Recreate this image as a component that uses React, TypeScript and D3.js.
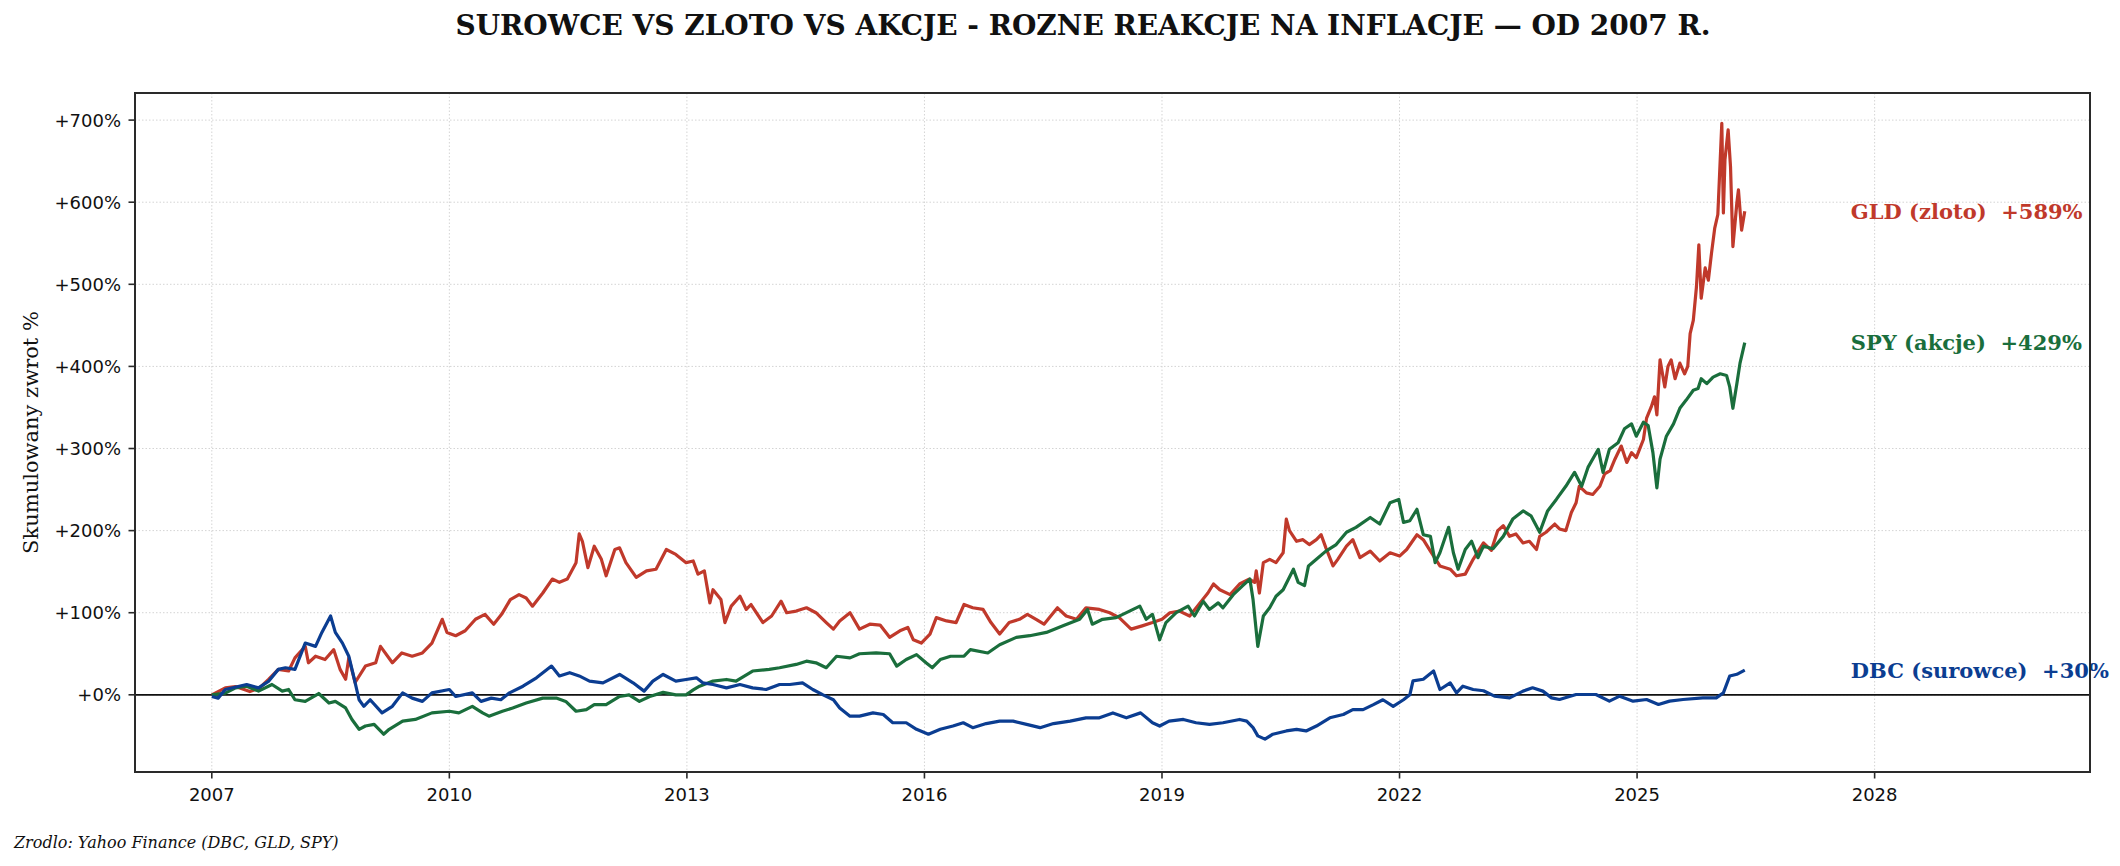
import { useEffect } from "react";
import * as d3 from "d3";

// Cumulative return (%) since start of 2007.
// Each point: [decimal year, value %]
const GLD: [number, number][] = [
  [2007.0, 0], [2007.17, 8.5], [2007.3, 10], [2007.48, 4], [2007.6, 8], [2007.72, 19], [2007.84, 31], [2007.97, 29],
  [2008.05, 45], [2008.18, 59], [2008.22, 39], [2008.31, 47], [2008.43, 43], [2008.54, 55], [2008.62, 31], [2008.69, 19],
  [2008.73, 45], [2008.81, 15], [2008.94, 35], [2009.07, 39], [2009.13, 59], [2009.28, 39], [2009.4, 51], [2009.53, 47],
  [2009.66, 51], [2009.78, 63], [2009.91, 92], [2009.97, 76], [2010.08, 72], [2010.2, 78], [2010.33, 92], [2010.45, 98],
  [2010.56, 86], [2010.66, 98], [2010.77, 116], [2010.88, 122], [2010.97, 118], [2011.05, 108], [2011.18, 124], [2011.3, 141],
  [2011.39, 137], [2011.49, 141], [2011.6, 161], [2011.64, 196], [2011.68, 187], [2011.75, 155], [2011.83, 181], [2011.92, 165],
  [2011.98, 145], [2012.09, 177], [2012.15, 179], [2012.23, 161], [2012.36, 143], [2012.49, 151], [2012.61, 153], [2012.74, 177],
  [2012.86, 171], [2012.99, 161], [2013.08, 163], [2013.14, 147], [2013.22, 151], [2013.29, 112], [2013.33, 128], [2013.43, 116],
  [2013.48, 88], [2013.56, 108], [2013.67, 120], [2013.75, 104], [2013.81, 110], [2013.96, 88], [2014.07, 96], [2014.19, 114],
  [2014.26, 100], [2014.38, 102], [2014.51, 106], [2014.63, 100], [2014.76, 88], [2014.85, 80], [2014.93, 90], [2015.06, 100],
  [2015.18, 80], [2015.31, 86], [2015.44, 85], [2015.56, 70], [2015.69, 78], [2015.79, 82], [2015.86, 67], [2015.96, 63],
  [2016.07, 74], [2016.15, 94], [2016.28, 90], [2016.4, 88], [2016.5, 110], [2016.61, 106], [2016.74, 104], [2016.84, 88],
  [2016.95, 74], [2017.07, 88], [2017.2, 92], [2017.3, 98], [2017.41, 92], [2017.51, 86], [2017.68, 106], [2017.79, 96],
  [2017.92, 92], [2018.04, 106], [2018.21, 104], [2018.34, 100], [2018.46, 94], [2018.61, 80], [2018.75, 84], [2018.88, 88],
  [2019.0, 92], [2019.1, 100], [2019.22, 102], [2019.35, 96], [2019.48, 112], [2019.58, 124], [2019.65, 135], [2019.73, 128],
  [2019.86, 122], [2019.98, 135], [2020.1, 141], [2020.17, 137], [2020.19, 151], [2020.23, 124], [2020.28, 161], [2020.36, 165],
  [2020.44, 161], [2020.53, 173], [2020.57, 214], [2020.61, 200], [2020.7, 187], [2020.78, 189], [2020.86, 183], [2020.95, 189],
  [2021.01, 195], [2021.07, 179], [2021.16, 157], [2021.22, 165], [2021.33, 181], [2021.41, 189], [2021.5, 167], [2021.63, 175],
  [2021.75, 163], [2021.88, 173], [2022.0, 169], [2022.09, 177], [2022.22, 195], [2022.3, 189], [2022.39, 175], [2022.51, 157],
  [2022.64, 153], [2022.72, 145], [2022.83, 147], [2022.93, 165], [2023.06, 185], [2023.16, 176], [2023.24, 200], [2023.31, 206],
  [2023.39, 193], [2023.47, 196], [2023.56, 185], [2023.64, 187], [2023.73, 177], [2023.77, 193], [2023.85, 198], [2023.96, 208],
  [2024.02, 202], [2024.1, 200], [2024.17, 222], [2024.23, 234], [2024.27, 254], [2024.36, 246], [2024.44, 244], [2024.53, 254],
  [2024.59, 269], [2024.66, 273], [2024.72, 287], [2024.8, 303], [2024.87, 283], [2024.93, 295], [2024.99, 289], [2025.08, 311],
  [2025.12, 337], [2025.18, 351], [2025.22, 363], [2025.25, 341], [2025.29, 408], [2025.35, 375], [2025.39, 400], [2025.43, 408],
  [2025.48, 385], [2025.54, 404], [2025.6, 391], [2025.64, 400], [2025.67, 440], [2025.71, 456], [2025.75, 497], [2025.78, 548],
  [2025.81, 483], [2025.86, 520], [2025.9, 505], [2025.94, 538], [2025.98, 568], [2026.02, 585], [2026.07, 696], [2026.09, 587],
  [2026.11, 652], [2026.15, 688], [2026.18, 643], [2026.21, 546], [2026.26, 599], [2026.28, 615], [2026.32, 566], [2026.36, 589],
];

const SPY: [number, number][] = [
  [2007.0, 0], [2007.17, 2], [2007.3, 8.5], [2007.44, 10.5], [2007.59, 4.5], [2007.76, 12.6], [2007.89, 4.5], [2007.97, 6.5],
  [2008.05, -6], [2008.18, -8], [2008.35, 1.6], [2008.48, -10], [2008.56, -8], [2008.69, -16], [2008.77, -30], [2008.86, -42],
  [2008.94, -38], [2009.05, -36], [2009.17, -48], [2009.24, -42], [2009.41, -32], [2009.57, -30], [2009.78, -22], [2010.0, -20],
  [2010.12, -22], [2010.29, -14], [2010.42, -22], [2010.5, -26], [2010.67, -20], [2010.8, -16], [2010.97, -10], [2011.18, -4],
  [2011.35, -4], [2011.47, -8], [2011.6, -20], [2011.73, -18], [2011.83, -12], [2011.98, -12], [2012.15, -2], [2012.27, 0],
  [2012.4, -8], [2012.53, -2], [2012.7, 3], [2012.86, 0], [2012.99, 0], [2013.08, 6], [2013.16, 10.5], [2013.33, 16.7],
  [2013.5, 18.7], [2013.62, 16.7], [2013.83, 29], [2014.04, 31], [2014.17, 33], [2014.38, 37], [2014.51, 41], [2014.63, 39],
  [2014.76, 33], [2014.89, 47], [2015.06, 45], [2015.18, 50], [2015.39, 51], [2015.56, 50], [2015.65, 35], [2015.77, 43],
  [2015.9, 49], [2016.02, 39], [2016.1, 33], [2016.2, 43], [2016.33, 47], [2016.5, 47], [2016.58, 55], [2016.8, 51],
  [2016.95, 61], [2017.16, 70], [2017.33, 72], [2017.54, 76], [2017.75, 84], [2017.96, 92], [2018.06, 104], [2018.12, 86],
  [2018.25, 92], [2018.42, 94], [2018.59, 102], [2018.72, 108], [2018.8, 92], [2018.88, 98], [2018.97, 67], [2019.05, 88],
  [2019.18, 100], [2019.33, 108], [2019.41, 96], [2019.52, 114], [2019.6, 104], [2019.71, 112], [2019.77, 106], [2019.9, 122],
  [2020.02, 133], [2020.11, 141], [2020.15, 116], [2020.21, 59], [2020.28, 96], [2020.36, 106], [2020.44, 120], [2020.53, 128],
  [2020.66, 153], [2020.72, 137], [2020.8, 133], [2020.85, 157], [2020.95, 165], [2021.07, 175], [2021.2, 183], [2021.33, 198],
  [2021.45, 204], [2021.63, 216], [2021.75, 208], [2021.88, 234], [2021.99, 238], [2022.05, 210], [2022.13, 212], [2022.22, 226],
  [2022.3, 195], [2022.39, 193], [2022.45, 161], [2022.51, 173], [2022.62, 204], [2022.68, 173], [2022.74, 153], [2022.83, 177],
  [2022.91, 187], [2022.99, 167], [2023.06, 181], [2023.18, 178], [2023.31, 193], [2023.43, 214], [2023.56, 224], [2023.66, 218],
  [2023.77, 198], [2023.87, 224], [2023.98, 238], [2024.1, 254], [2024.21, 271], [2024.3, 254], [2024.38, 277], [2024.51, 299],
  [2024.57, 271], [2024.65, 299], [2024.76, 307], [2024.84, 324], [2024.93, 330], [2024.99, 315], [2025.08, 332], [2025.14, 328],
  [2025.2, 295], [2025.25, 252], [2025.29, 287], [2025.37, 315], [2025.46, 330], [2025.54, 349], [2025.62, 359], [2025.71, 371],
  [2025.77, 373], [2025.81, 385], [2025.88, 379], [2025.96, 387], [2026.05, 391], [2026.13, 389], [2026.17, 375], [2026.21, 349],
  [2026.26, 379], [2026.3, 404], [2026.36, 429],
];

const DBC: [number, number][] = [
  [2007.0, -2], [2007.08, -4], [2007.17, 6.5], [2007.44, 12.6], [2007.59, 8.5], [2007.72, 16.7], [2007.84, 31], [2007.93, 33],
  [2008.05, 31], [2008.18, 63], [2008.31, 59], [2008.39, 76], [2008.5, 96], [2008.56, 76], [2008.65, 63], [2008.73, 47],
  [2008.79, 23], [2008.86, -6], [2008.92, -14], [2009.0, -6], [2009.15, -22], [2009.28, -14], [2009.41, 2.4], [2009.53, -4],
  [2009.66, -8], [2009.78, 2.4], [2010.0, 6.5], [2010.08, -2], [2010.29, 2.4], [2010.4, -8], [2010.53, -4], [2010.65, -6],
  [2010.76, 2.4], [2010.93, 10.5], [2011.1, 20.7], [2011.29, 35], [2011.39, 23], [2011.52, 27], [2011.64, 23], [2011.77, 16.7],
  [2011.94, 14.6], [2012.15, 24.8], [2012.32, 14.6], [2012.46, 4.5], [2012.57, 16.7], [2012.7, 24.8], [2012.86, 16.7], [2012.99, 18.7],
  [2013.12, 20.7], [2013.2, 14.6], [2013.33, 12.6], [2013.5, 8.5], [2013.67, 12.6], [2013.83, 8.5], [2014.0, 6.5], [2014.17, 12.6],
  [2014.3, 12.6], [2014.46, 14.6], [2014.59, 6.5], [2014.72, 0], [2014.85, -6], [2014.93, -16], [2015.06, -26], [2015.18, -26],
  [2015.35, -22], [2015.48, -24], [2015.6, -34], [2015.77, -34], [2015.9, -42], [2016.05, -48], [2016.2, -42], [2016.36, -38],
  [2016.49, -34], [2016.61, -40], [2016.78, -35], [2016.95, -32], [2017.12, -32], [2017.29, -36], [2017.46, -40], [2017.63, -35],
  [2017.84, -32], [2018.04, -28], [2018.21, -28], [2018.38, -22], [2018.55, -28], [2018.73, -22], [2018.88, -34], [2018.97, -38],
  [2019.09, -32], [2019.27, -30], [2019.43, -34], [2019.6, -36], [2019.77, -34], [2019.98, -30], [2020.07, -32], [2020.15, -40],
  [2020.21, -50], [2020.3, -54], [2020.4, -48], [2020.57, -44], [2020.7, -42], [2020.82, -44], [2020.95, -38], [2021.12, -28],
  [2021.29, -24], [2021.41, -18], [2021.54, -18], [2021.67, -12], [2021.79, -6], [2021.92, -14], [2022.05, -6], [2022.13, 0],
  [2022.17, 17], [2022.3, 19], [2022.43, 29], [2022.51, 6.5], [2022.64, 14.6], [2022.72, 2.4], [2022.8, 10.5], [2022.93, 6.5],
  [2023.06, 5], [2023.2, -1.6], [2023.39, -3.7], [2023.56, 4.5], [2023.68, 8.5], [2023.81, 4.5], [2023.92, -3.7], [2024.02, -5.7],
  [2024.23, 0.4], [2024.48, 0.4], [2024.65, -7.7], [2024.78, -1.6], [2024.95, -7.7], [2025.12, -5.7], [2025.27, -11.8], [2025.41, -7.7],
  [2025.58, -5.7], [2025.83, -3.7], [2026.0, -3.7], [2026.09, 2.4], [2026.17, 23], [2026.26, 25], [2026.36, 30],
];

const SERIES = [
  { name: "GLD (zloto)", final: 589, color: "#c0392b", data: GLD },
  { name: "SPY (akcje)", final: 429, color: "#1a6e3c", data: SPY },
  { name: "DBC (surowce)", final: 30, color: "#0b3d91", data: DBC },
];

const X_TICKS = [2007, 2010, 2013, 2016, 2019, 2022, 2025, 2028];
const Y_TICKS = [0, 100, 200, 300, 400, 500, 600, 700];

const W = 2120;
const H = 866;
const M = { left: 135, right: 2090, top: 93, bottom: 772 };
const SANS = "DejaVu Sans, sans-serif";
const SERIF = "DejaVu Serif, serif";

export default function App() {
  useEffect(() => {
    document.body.style.margin = "0";
  }, []);

  const x = d3.scaleLinear().domain([2006.03, 2030.72]).range([M.left, M.right]);
  const y = d3.scaleLinear().domain([-94, 733]).range([M.bottom, M.top]);
  const line = d3
    .line<[number, number]>()
    .x((d) => x(d[0]))
    .y((d) => y(d[1]));

  const fmtY = (v: number) => `+${v}%`;

  return (
    <svg width={W} height={H} style={{ position: "absolute", left: 0, top: 0, display: "block", background: "#fff" }}>
      <text x={1083} y={35} textAnchor="middle" fontFamily={SERIF} fontWeight="bold" fontSize={28} fill="#111">
        SUROWCE VS ZLOTO VS AKCJE - ROZNE REAKCJE NA INFLACJE — OD 2007 R.
      </text>

      {/* grid */}
      <g stroke="#d4d4d4" strokeWidth={1} strokeDasharray="1.5 2">
        {X_TICKS.map((t) => (
          <line key={`gx${t}`} x1={x(t)} x2={x(t)} y1={M.top} y2={M.bottom} />
        ))}
        {Y_TICKS.map((t) => (
          <line key={`gy${t}`} x1={M.left} x2={M.right} y1={y(t)} y2={y(t)} />
        ))}
      </g>

      {/* zero line */}
      <line x1={M.left} x2={M.right} y1={y(0)} y2={y(0)} stroke="#111" strokeWidth={1.8} />

      {SERIES.map((s) => (
        <path key={s.name} d={line(s.data) ?? ""} fill="none" stroke={s.color} strokeWidth={3.2} strokeLinejoin="round" />
      ))}

      {SERIES.map((s) => (
        <text
          key={`lbl${s.name}`}
          x={x(2027.7)}
          y={y(s.final) + 7.5}
          fontFamily={SERIF}
          fontWeight="bold"
          fontSize={21}
          fill={s.color}
          style={{ whiteSpace: "pre" }}
        >
          {`${s.name}  +${s.final}%`}
        </text>
      ))}

      {/* frame */}
      <rect x={M.left} y={M.top} width={M.right - M.left} height={M.bottom - M.top} fill="none" stroke="#2a2a2a" strokeWidth={2} />

      {/* axes */}
      <g fontFamily={SANS} fontSize={18} fill="#111">
        {Y_TICKS.map((t) => (
          <g key={`ty${t}`}>
            <line x1={M.left - 6.5} x2={M.left} y1={y(t)} y2={y(t)} stroke="#2a2a2a" strokeWidth={1.6} />
            <text x={M.left - 14} y={y(t) + 6.5} textAnchor="end">
              {fmtY(t)}
            </text>
          </g>
        ))}
        {X_TICKS.map((t) => (
          <g key={`tx${t}`}>
            <line x1={x(t)} x2={x(t)} y1={M.bottom} y2={M.bottom + 6.5} stroke="#2a2a2a" strokeWidth={1.6} />
            <text x={x(t)} y={M.bottom + 29} textAnchor="middle">
              {t}
            </text>
          </g>
        ))}
      </g>

      <text
        transform={`translate(38,${(M.top + M.bottom) / 2}) rotate(-90)`}
        textAnchor="middle"
        fontFamily={SERIF}
        fontSize={21}
        fill="#111"
      >
        Skumulowany zwrot %
      </text>

      <text x={14} y={848} fontFamily={SERIF} fontStyle="italic" fontSize={16} fill="#111">
        Zrodlo: Yahoo Finance (DBC, GLD, SPY)
      </text>
    </svg>
  );
}
